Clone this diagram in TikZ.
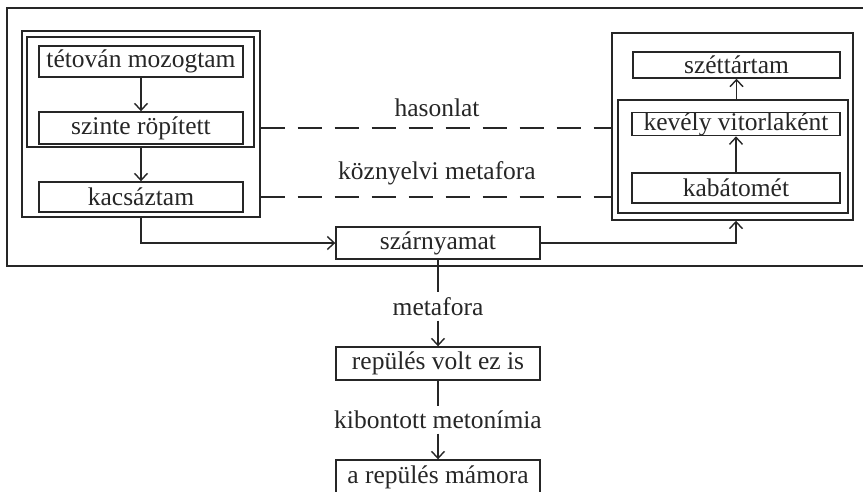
\documentclass[tikz,border=0pt]{standalone}
\usepackage{fontspec}
\setmainfont{Liberation Serif}
\usetikzlibrary{arrows.meta}
\begin{document}
\begin{tikzpicture}[x=1pt,y=-1pt, line width=1.4pt, color=black!85,
  txtbox/.style={draw, rectangle, inner sep=0pt, minimum width=204pt},
  grp/.style={draw, rectangle, inner sep=0pt},
  lbl/.style={inner sep=0pt},
  arr/.style={-{Straight Barb[length=7pt,width=13pt]}},
  link/.style={dash pattern=on 24pt off 13pt},
  font=\fontsize{25.5}{30}\selectfont]
\clip (0,0) rectangle (863,491);

% outer frame, open on the right
\draw (863,8) -- (7,8) -- (7,266) -- (863,266);

% left group
\node[txtbox, minimum height=31pt] (tet) at (141,61.5) {tétován mozogtam};
\node[txtbox, minimum height=32pt] (szi) at (141,128) {szinte röpített};
\node[txtbox, minimum height=30pt] (kac) at (141,197) {kacsáztam};
\node[grp, minimum width=227pt, minimum height=110pt] (grpA) at (140.5,92) {};
\node[grp, minimum width=238pt, minimum height=186pt] (grpL) at (141,124) {};

% right group
\node[txtbox, minimum width=207pt, minimum height=26pt] (sze) at (736.5,65) {széttártam};
\node[txtbox, minimum width=208pt, minimum height=23pt] (kev) at (736,124) {kevély vitorlaként};
\node[txtbox, minimum width=208pt, minimum height=30pt] (kab) at (736,188) {kabátomét};
\node[grp, minimum width=230pt, minimum height=113pt] (grpB) at (733,156.5) {};
\node[grp, minimum width=241pt, minimum height=187pt] (grpR) at (732.5,126.5) {};

% middle column
\node[txtbox, minimum height=32pt] (szn) at (438,243) {szárnyamat};
\node[txtbox, minimum height=33pt] (rep) at (438,363.5) {repülés volt ez is};
\node[txtbox, minimum height=34pt] (mam) at (438,477) {a repülés mámora};

% labels
\node[lbl] (has) at (437,108) {hasonlat};
\node[lbl] (koz) at (437,173) {köznyelvi metafora};
\node[lbl, minimum height=27pt] (met) at (438,306.5) {metafora};
\node[lbl, minimum height=26pt] (kib) at (438,420) {kibontott metonímia};

% connectors
\draw[arr] (tet.south) -- (szi.north);
\draw[arr] (grpA.south -| kac.north) -- (kac.north);
\draw[arr] (kab.north) -- (kev.south);
\draw[arr] (grpB.north -| sze.south) -- (sze.south);
\draw[arr] (grpL.south -| kac.south) |- (szn.west);
\draw[arr] (szn.east) -| (grpR.south -| kab.south);
\draw[link] (grpL.east |- szi.center) -- (grpR.west |- szi.center);
\draw[link] (grpL.east |- kac.center) -- (grpR.west |- kac.center);
\draw (szn.south) -- (met.north);
\draw[arr] (met.south) -- (rep.north);
\draw (rep.south) -- (kib.north);
\draw[arr] (kib.south) -- (mam.north);
\end{tikzpicture}
\end{document}
